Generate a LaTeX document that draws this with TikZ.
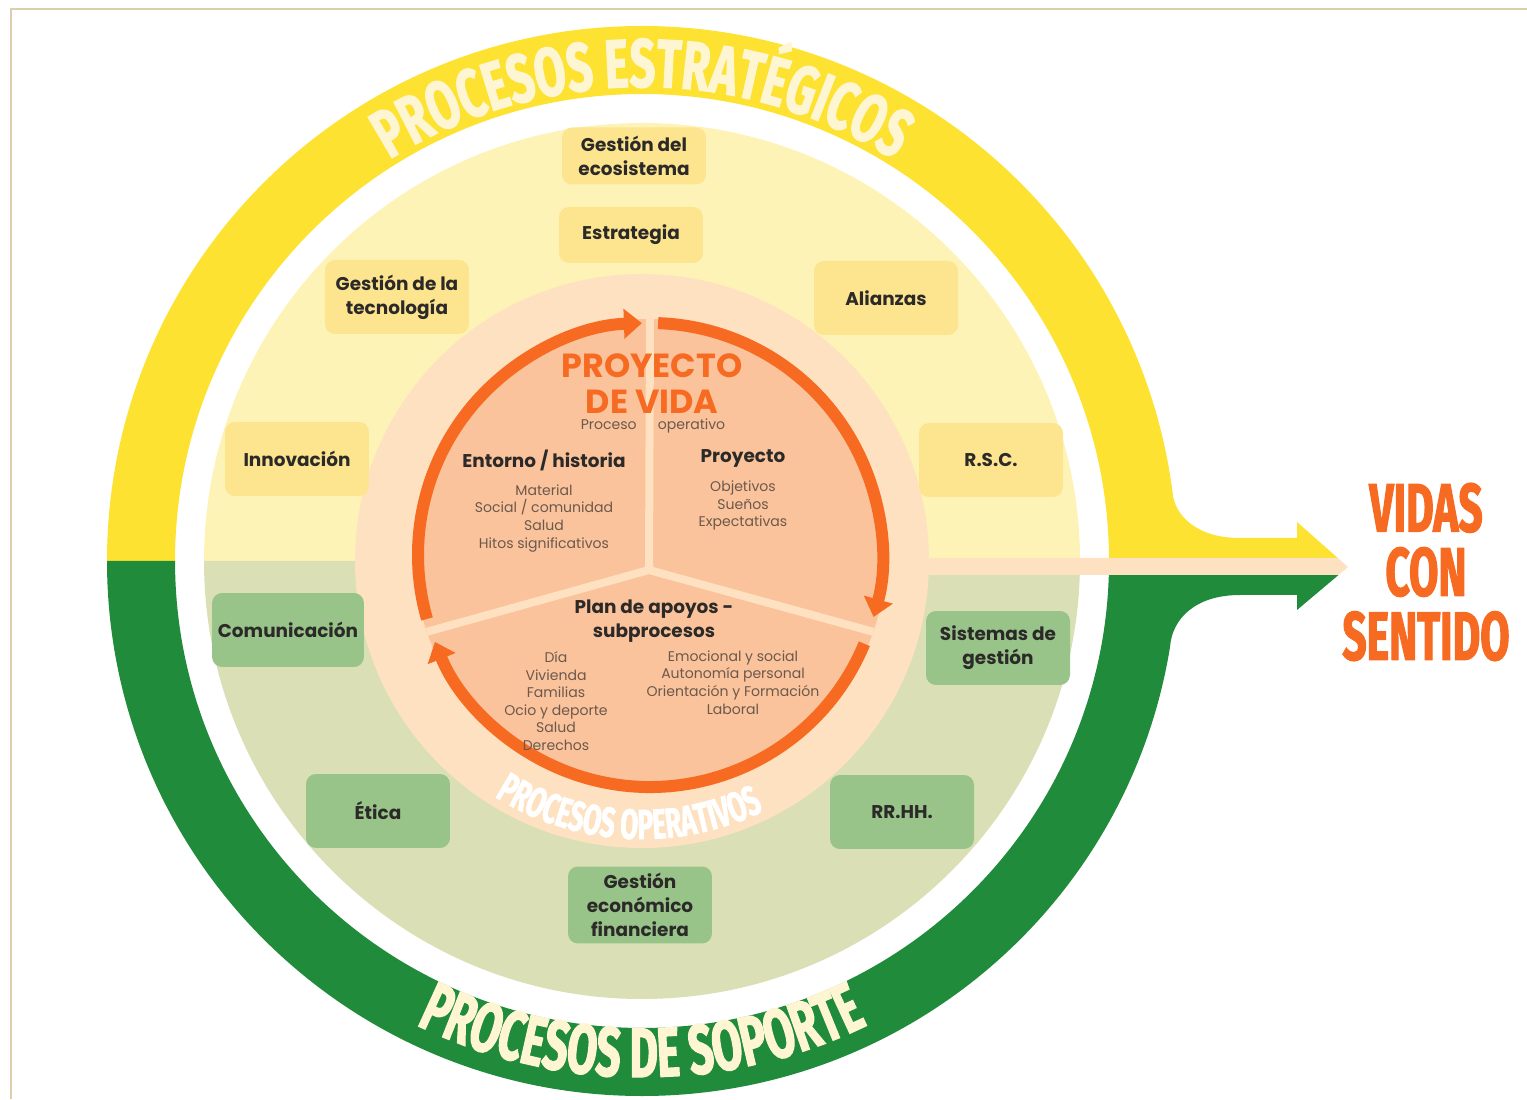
\documentclass[tikz,border=0pt]{standalone}
\usepackage{fontspec}
\setmainfont{Poppins}
\newfontfamily\bandfont{Fira Sans}[FakeStretch=0.66, BoldFeatures={FakeBold=1.6}]
\newfontfamily\titlefont{Fira Sans}[FakeStretch=0.62, BoldFeatures={FakeBold=1.6}]
\usepackage{tikz}
\usetikzlibrary{positioning,arrows.meta,decorations.text}
\definecolor{bandyellow}{HTML}{FDE232}
\definecolor{discyellow}{HTML}{FEF3B6}
\definecolor{boxyellow}{HTML}{FDE48E}
\definecolor{bandgreen}{HTML}{1F8B3B}
\definecolor{discgreen}{HTML}{DADFB5}
\definecolor{boxgreen}{HTML}{98C389}
\definecolor{peach}{HTML}{FDE1C0}
\definecolor{salmon}{HTML}{FBC39B}
\definecolor{ring}{HTML}{F76A21}
\definecolor{cream}{HTML}{FEF5D2}
\definecolor{ink}{HTML}{2B2A28}
\definecolor{soft}{HTML}{6B594D}
\definecolor{frame}{HTML}{DCCFAE}

\begin{document}
\begin{tikzpicture}[x=0.02cm, y=0.02cm,
		box/.style={rounded corners=0.2cm, minimum width=2.88cm, minimum height=1.48cm,
			align=center, text=ink, font=\bfseries\fontsize{10.5}{13.5}\selectfont},
		ybox/.style={box, fill=boxyellow},
		gbox/.style={box, fill=boxgreen},
		headtxt/.style={align=center, text=ink, font=\bfseries\fontsize{10.5}{13.5}\selectfont},
		subtxt/.style={align=center, text=soft, font=\fontsize{8}{10}\selectfont},
		cycarrow/.style={line width=0.24cm, ring, -{Triangle[width=0.58cm, length=0.36cm]}}]
	\useasboundingbox (0,0) rectangle (1527,1099);
	\draw[frame, line width=0.04cm] (11,0) -- (11,1090) -- (1527,1090);

	\coordinate (O) at (642,538);
	\coordinate (Q) at (650,544);

	% outer bands turning into the arrow
	\fill[bandyellow] (107,538) arc[start angle=180, end angle=7.3, radius=535]
		.. controls (1174.5,585) and (1195,561) .. (1240,561) -- (1297,561)
		-- (1297,577) -- (1337.8,541) -- (1108.99,541)
		arc[start angle=0.37, end angle=180, radius=467] -- cycle;
	\fill[bandgreen] (107,538) arc[start angle=180, end angle=350.75, radius=535]
		.. controls (1172,480) and (1195,504) .. (1240,504) -- (1297,504)
		-- (1297,489) -- (1338.5,524) -- (1108.8,524)
		arc[start angle=-1.72, end angle=-180, radius=467] -- cycle;

	% discs
	\fill[discyellow] (1080,538) arc[start angle=0, end angle=180, radius=438] -- cycle;
	\fill[discgreen] (1080,538) arc[start angle=0, end angle=-180, radius=438] -- cycle;
	\fill[peach] (900,541) -- (1337.8,541) -- (1348,532) -- (1338.5,524) -- (900,524) -- cycle;
	\fill[peach] (O) circle[radius=287];
	\fill[salmon] (Q) circle[radius=236];

	% dividers of the inner disc
	\coordinate (J) at (649,529);
	\coordinate (dtop) at (650,780);
	\coordinate (dleft) at (426.9,467.2);
	\coordinate (dright) at (873.1,467.2);
	\draw[peach, line width=0.16cm] (J) -- (dtop) (J) -- (dleft) (J) -- (dright);

	% cycle arrows
	\draw[cycarrow] ([shift={(196:232)}]Q) arc[start angle=196, end angle=92, radius=232];
	\draw[cycarrow] ([shift={(88:232)}]Q) arc[start angle=88, end angle=-15.5, radius=232];
	\draw[cycarrow] ([shift={(-22.5:232)}]Q) arc[start angle=-22.5, end angle=-158, radius=232];

	% band titles
	\path[decorate, decoration={text along path, text align=center, text color=cream,
		text={|\bandfont\bfseries\fontsize{39}{39}\selectfont|PROCESOS ESTRATÉGICOS}}]
		(O) ++(150:474) arc[start angle=150, end angle=30, radius=474];
	\path[decorate, decoration={text along path, text align=center, text color=cream,
		text={|\titlefont\bfseries\fontsize{40}{40}\selectfont|PROCESOS DE SOPORTE}}]
		(O) ++(210:516) arc[start angle=210, end angle=330, radius=516];
	\path[decorate, decoration={text along path, text align=center, text color=white,
		text={|\titlefont\bfseries\fontsize{24}{24}\selectfont|PROCESOS OPERATIVOS}}]
		(O) ++(200:278) arc[start angle=200, end angle=334, radius=278];

	% strategic processes
	\node[ybox, minimum height=1.14cm] (eco) at (634,943) {Gestión del\\ecosistema};
	\node[ybox, minimum height=1.12cm] (estr) at (631,864) {Estrategia};
	\node[ybox] (tecno) at (397,802) {Gestión de la\\tecnología};
	\node[ybox] (innov) at (297,640) {Innovación};
	\node[ybox] (alian) at (886,801) {Alianzas};
	\node[ybox] (rsc) at (991,639) {R.S.C.};

	% support processes
	\node[gbox] (comun) at (288,469) {Comunicación};
	\node[gbox] (etica) at (378,288) {Ética};
	\node[gbox, minimum height=1.54cm] (econ) at (640,194) {Gestión\\económico\\financiera};
	\node[gbox] (sist) at (998,451) {Sistemas de\\gestión};
	\node[gbox] (rrhh) at (902,287) {RR.HH.};

	% life project
	\node[align=center, text=ring, font=\bfseries\fontsize{19}{20.5}\selectfont] (pv) at (652,715)
		{PROYECTO\\DE VIDA};
	\node[subtxt] (proc) at (653,673) {Proceso\hspace{12pt}operativo};
	\node[headtxt] (ent) at (544,639) {Entorno / historia};
	\node[subtxt, below=1pt of ent] (entl) {Material\\Social / comunidad\\Salud\\Hitos significativos};
	\node[headtxt] (proy) at (743,641) {Proyecto};
	\node[subtxt, below=1pt of proy] (proyl) {Objetivos\\Sueños\\Expectativas};
	\node[headtxt] (plan) at (654,478) {Plan de apoyos -\\subprocesos};
	\node[subtxt] (planl) at (556,398) {Día\\Vivienda\\Familias\\Ocio y deporte\\Salud\\Derechos};
	\node[subtxt] (planr) at (733,416.5) {Emocional y social\\Autonomía personal\\Orientación y Formación\\Laboral};

	% outcome
	\node[align=center, text=ring, font=\titlefont\bfseries\fontsize{39}{36.5}\selectfont] (vidas)
		at (1426,527) {VIDAS\\CON\\SENTIDO};
\end{tikzpicture}
\end{document}
